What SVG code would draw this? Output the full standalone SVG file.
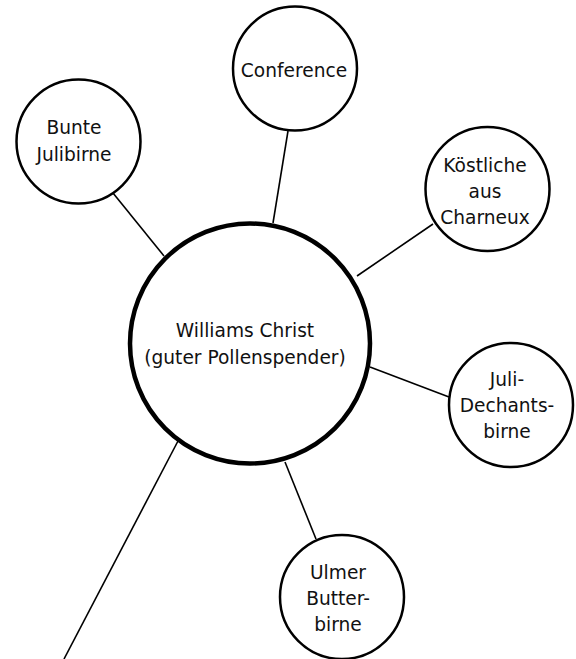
<svg xmlns="http://www.w3.org/2000/svg" width="576" height="659" viewBox="0 0 576 659">
<style>
.node{fill:#fff;stroke:#000;stroke-width:2.5}
.main{fill:#fff;stroke:#000;stroke-width:4.5}
.edge{stroke:#000;stroke-width:1.6;fill:none}
text{font-family:"DejaVu Sans",sans-serif;font-size:18.6px;fill:#111;text-anchor:middle}
</style>
<rect width="576" height="659" fill="#fff"/>
<g id="connectors">
<line class="edge" x1="113" y1="193" x2="164" y2="256"/>
<line class="edge" x1="288" y1="131" x2="273" y2="223"/>
<line class="edge" x1="433" y1="224" x2="357" y2="276"/>
<line class="edge" x1="449" y1="397" x2="370" y2="367"/>
<line class="edge" x1="316" y1="539" x2="285" y2="462"/>
<line class="edge" x1="178" y1="441" x2="64" y2="659"/>
</g>
<g id="williams">
<circle class="main" cx="250" cy="343.5" r="120"/>
<text x="245" y="337">Williams Christ</text>
<text x="245" y="364">(guter Pollenspender)</text>
</g>
<g id="bunte">
<circle class="node" cx="78.5" cy="141.5" r="62"/>
<text x="74" y="134">Bunte</text>
<text x="74" y="161">Julibirne</text>
</g>
<g id="conference">
<circle class="node" cx="295" cy="68.5" r="62"/>
<text x="294" y="77">Conference</text>
</g>
<g id="koestliche">
<circle class="node" cx="487.5" cy="189" r="62"/>
<text x="485" y="172">Köstliche</text>
<text x="485" y="198">aus</text>
<text x="485" y="224">Charneux</text>
</g>
<g id="juli">
<circle class="node" cx="511" cy="405" r="62"/>
<text x="507" y="386">Juli-</text>
<text x="507" y="412">Dechants-</text>
<text x="507" y="438">birne</text>
</g>
<g id="ulmer">
<circle class="node" cx="342" cy="597" r="62"/>
<text x="338" y="579">Ulmer</text>
<text x="338" y="605">Butter-</text>
<text x="338" y="631">birne</text>
</g>
</svg>
